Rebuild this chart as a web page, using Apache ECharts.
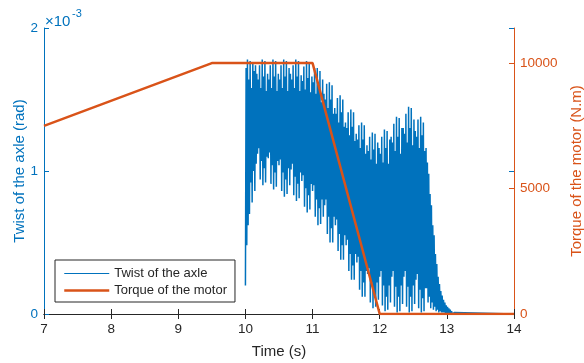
<!DOCTYPE html>
<html>
<head>
<meta charset="utf-8">
<script src="https://cdn.jsdelivr.net/npm/echarts@6/dist/echarts.min.js"></script>
<style>
html,body{margin:0;padding:0;background:#fff;}
#chart{width:584px;height:363px;}
</style>
</head>
<body>
<div id="chart"></div>
<script>
// ---- data ----
const twistTicks = [0, 1, 2];               // ×10^-3 rad
const torqueTicks = [0, 5000, 10000];        // N.m

// Torque of the motor (N.m)
const torqueTimes = [7, 9.5, 11, 12, 14];
const torqueValues = [7500, 10000, 10000, 0, 0];

// Twist of the axle (×10^-3 rad): oscillation peaks / troughs
const twistStartTime = 10.00;
const twistStartValue = 0.20;
const twistHalfPeriod = 0.01;   // s between a peak and the next trough
const twistPeaks = [
  1.72,1.78,1.64,1.77,1.58,1.76,1.70,1.74,
  1.68,1.64,1.74,1.58,1.78,1.66,1.77,1.56,
  1.68,1.64,1.74,1.58,1.78,1.66,1.77,1.56,
  1.68,1.64,1.74,1.58,1.78,1.66,1.77,1.56,1.72,
  1.68,1.64,1.74,1.58,1.78,1.66,1.77,1.56,
  1.67,1.63,1.73,1.57,1.77,1.65,1.76,1.55,
  1.66,1.62,1.72,1.54,1.72,1.60,1.70,1.48,1.64,
  1.54,1.50,1.61,1.44,1.62,1.50,1.60,1.40,
  1.44,1.40,1.51,1.34,1.53,1.41,1.50,1.31,
  1.34,1.30,1.41,1.25,1.43,1.31,1.41,1.21,
  1.26,1.22,1.32,1.16,1.34,1.22,1.32,1.12,
  1.18,1.14,1.24,1.08,1.27,1.15,1.26,1.05,1.20,
  1.16,1.12,1.24,1.06,1.29,1.16,1.28,1.05,1.22,
  1.24,1.20,1.33,1.14,1.38,1.24,1.37,1.12,1.30,
  1.30,1.26,1.40,1.20,1.45,1.30,1.44,1.18,1.36,
  1.28,1.24,1.36,1.16,1.38,1.25,1.34,1.14,
  1.16,1.06,0.98,0.84,0.76,0.62,0.55,0.42,0.35,0.26,0.21,
  0.16,0.13,0.10,0.08,0.06,0.05,0.04,0.03,0.02,0.01,0.01
];
const twistTroughs = [
  0.48,0.62,0.70,0.92,0.78,1.00,0.86,1.05,
  1.12,1.16,0.94,1.07,0.90,1.02,0.92,1.10,
  1.09,1.13,0.91,1.04,0.87,0.99,0.89,1.07,
  1.04,1.08,0.86,0.99,0.82,0.94,0.84,1.02,0.90,
  1.01,1.05,0.83,0.96,0.79,0.91,0.81,0.99,
  0.93,0.97,0.75,0.88,0.71,0.83,0.73,0.91,
  0.86,0.90,0.68,0.80,0.62,0.74,0.63,0.80,0.68,
  0.76,0.80,0.56,0.68,0.50,0.60,0.50,0.68,
  0.62,0.66,0.44,0.56,0.38,0.48,0.38,0.55,
  0.48,0.52,0.30,0.42,0.24,0.34,0.24,0.42,
  0.36,0.40,0.17,0.30,0.12,0.22,0.12,0.30,
  0.28,0.32,0.08,0.22,0.04,0.14,0.05,0.22,0.10,
  0.26,0.30,0.06,0.20,0.02,0.12,0.03,0.20,0.08,
  0.26,0.30,0.05,0.19,0.01,0.12,0.02,0.20,0.07,
  0.26,0.30,0.05,0.19,0.01,0.12,0.02,0.20,0.07,
  0.24,0.28,0.04,0.17,0.01,0.11,0.02,0.18,
  0.18,0.08,0.12,0.04,0.08,0.03,0.05,0.02,0.03,0.01,0.02,
  0.01,0.01,0.01,0.00,0.00,0.00,0.00,0.00,0.00,0.00,0.00
];
const twistEnd = [14, 0];

// ---- build series data ----
const twistData = [[twistStartTime, twistStartValue]];
for (let i = 0; i < twistPeaks.length; i++) {
  const tp = +(twistStartTime + (2 * i + 1) * twistHalfPeriod).toFixed(3);
  const tt = +(twistStartTime + (2 * i + 2) * twistHalfPeriod).toFixed(3);
  twistData.push([tp, twistPeaks[i]]);
  twistData.push([tt, twistTroughs[i]]);
}
twistData.push(twistEnd);
const torqueData = torqueTimes.map((t, i) => [t, torqueValues[i]]);

const BLUE = '#0072BD', ORANGE = '#D95319', DARK = '#262626';
const FONT = 'Liberation Sans, Arial, Helvetica, sans-serif';

const chart = echarts.init(document.getElementById('chart'), null, {renderer: 'canvas'});
chart.setOption({
  animation: false,
  backgroundColor: '#fff',
  textStyle: {fontFamily: FONT},
  grid: {left: 44, right: 70, top: 28, bottom: 49, containLabel: false, outerBoundsMode: 'none'},
  legend: {
    left: 55, top: 260, orient: 'vertical',
    backgroundColor: '#fff', borderColor: DARK, borderWidth: 1,
    padding: [7, 8, 5, 8], itemGap: 4, itemWidth: 45, itemHeight: 14,
    itemStyle: {opacity: 0},
    textStyle: {fontSize: 13, color: DARK, fontFamily: FONT},
    data: [
      {name: 'Twist of the axle', itemStyle: {opacity: 0}, lineStyle: {width: 1, color: BLUE}},
      {name: 'Torque of the motor', itemStyle: {opacity: 0}, lineStyle: {width: 2.5, color: ORANGE}}
    ]
  },
  xAxis: [{
    type: 'value', min: 7, max: 14, interval: 1, position: 'bottom',
    axisLine: {lineStyle: {color: DARK, width: 1}},
    axisTick: {inside: true, length: 5, lineStyle: {color: DARK}},
    axisLabel: {color: DARK, fontSize: 13.5, margin: 8, fontFamily: FONT},
    splitLine: {show: false},
    name: 'Time (s)', nameLocation: 'middle', nameGap: 30, nameMoveOverlap: false,
    nameTextStyle: {color: DARK, fontSize: 15, fontFamily: FONT}
  }, {
    type: 'value', min: 7, max: 14, interval: 1, position: 'top',
    axisLine: {lineStyle: {color: DARK, width: 1}},
    axisTick: {inside: true, length: 5, lineStyle: {color: DARK}},
    axisLabel: {show: false}, splitLine: {show: false}
  }],
  yAxis: [{
    type: 'value', min: 0, max: 2, interval: 1, position: 'left',
    axisLine: {show: true, lineStyle: {color: BLUE, width: 1}},
    axisTick: {show: true, inside: true, length: 5, lineStyle: {color: BLUE}},
    axisLabel: {color: BLUE, fontSize: 13.5, margin: 6, fontFamily: FONT,
      customValues: twistTicks},
    splitLine: {show: false},
    name: 'Twist of the axle (rad)', nameLocation: 'middle', nameGap: 17, nameMoveOverlap: false,
    nameTextStyle: {color: BLUE, fontSize: 15, fontFamily: FONT}
  }, {
    type: 'value', min: 0, max: 11400, position: 'right',
    axisLine: {show: true, lineStyle: {color: ORANGE, width: 1}},
    axisTick: {show: true, inside: true, length: 5, lineStyle: {color: ORANGE},
      customValues: torqueTicks},
    axisLabel: {color: ORANGE, fontSize: 13.5, margin: 6, fontFamily: FONT,
      customValues: torqueTicks, formatter: v => String(v)},
    splitLine: {show: false},
    name: 'Torque of the motor (N.m)', nameLocation: 'middle', nameGap: 55, nameMoveOverlap: false,
    nameRotate: 90,
    nameTextStyle: {color: ORANGE, fontSize: 15, fontFamily: FONT}
  }, {
    type: 'value', min: 0, max: 2, interval: 1, position: 'right',
    axisLine: {show: false},
    axisTick: {show: true, inside: true, length: 5, lineStyle: {color: BLUE}},
    axisLabel: {show: false}, splitLine: {show: false}
  }],
  graphic: [
    {type: 'text', left: 45, top: 14, style: {text: '×10', fill: BLUE, fontSize: 15, fontFamily: FONT}},
    {type: 'text', left: 72, top: 8, style: {text: '-3', fill: BLUE, fontSize: 11, fontFamily: FONT}}
  ],
  series: [{
    name: 'Twist of the axle', type: 'line', xAxisIndex: 0, yAxisIndex: 0,
    data: twistData, showSymbol: false, symbol: 'none', z: 2,
    lineStyle: {color: BLUE, width: 1.5}, itemStyle: {color: BLUE}
  }, {
    name: 'Torque of the motor', type: 'line', xAxisIndex: 0, yAxisIndex: 1,
    data: torqueData, showSymbol: false, symbol: 'none', z: 3,
    lineStyle: {color: ORANGE, width: 2.5}, itemStyle: {color: ORANGE}
  }]
});
</script>
</body>
</html>
